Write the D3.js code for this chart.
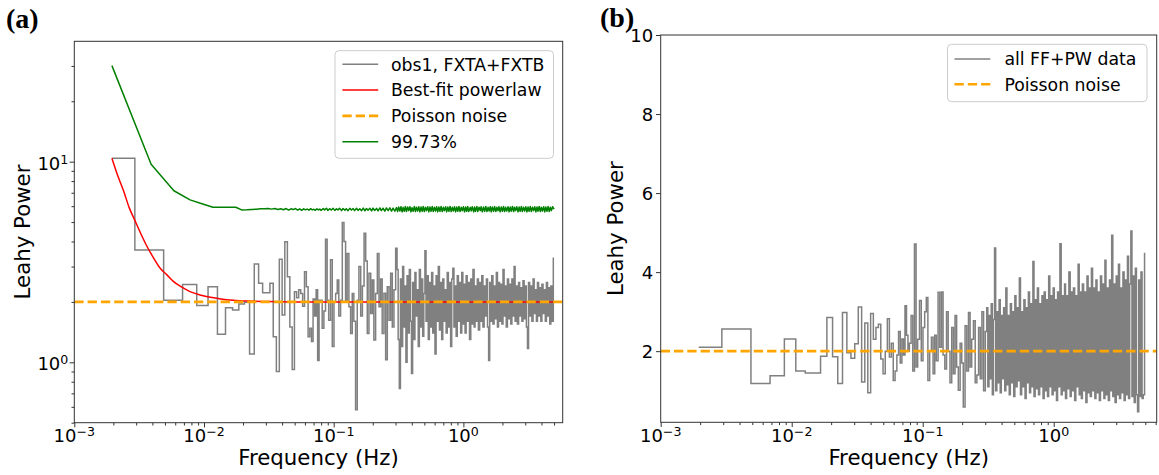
<!DOCTYPE html>
<html><head><meta charset="utf-8">
<script src="https://cdn.jsdelivr.net/npm/d3@7"></script>
<style>
body{margin:0;background:#fff}
svg{display:block}
text{font-family:"DejaVu Sans",sans-serif;fill:#000}
</style>
</head><body>
<svg id="chart" width="1159" height="475"></svg>
<script>
// ---------------- DATA ----------------
// frequency grid (Hz): low part on the native 1/512 s grid, higher part sampled
const freqLow = [0.00195,0.00391,0.00586,0.00781,0.00977,0.01172,0.01367,0.01563,0.01758,0.01953,
 0.02148,0.02344,0.02539,0.02734,0.0293,0.03125,0.0332,0.03516,0.03711,0.03906,
 0.04102,0.04297,0.04492,0.04688,0.04883,0.05078,0.05273,0.05469,0.05664,0.05859,
 0.06055,0.0625,0.06445,0.06641,0.06836,0.07031,0.07227,0.07422,0.07617,0.07813];
const freqMid = [0.080,0.083,0.085,0.088,0.090,0.093,0.096,0.099,0.102,0.105,
 0.108,0.111,0.115,0.118,0.122,0.125,0.129,0.133,0.137,0.141,
 0.145,0.150,0.154,0.159,0.164,0.169,0.174,0.179,0.184,0.190,
 0.196,0.201,0.207,0.214,0.220,0.227,0.233,0.240,0.248,0.255,
 0.263,0.271,0.279,0.287,0.296,0.305];
const freqHigh = [0.311,0.317,0.324,0.330,0.337,0.343,0.350,0.357,0.364,0.372,
 0.379,0.387,0.394,0.402,0.410,0.419,0.427,0.435,0.444,0.453,
 0.462,0.471,0.481,0.490,0.500,0.510,0.520,0.531,0.541,0.552,
 0.563,0.575,0.586,0.598,0.610,0.622,0.634,0.647,0.660,0.673,
 0.687,0.700,0.714,0.729,0.743,0.758,0.773,0.789,0.805,0.821,
 0.837,0.854,0.871,0.888,0.906,0.924,0.943,0.962,0.981,1.00,
 1.02,1.04,1.06,1.08,1.10,1.13,1.15,1.17,1.20,1.22,
 1.24,1.27,1.29,1.32,1.35,1.37,1.40,1.43,1.46,1.49,
 1.52,1.55,1.58,1.61,1.64,1.67,1.71,1.74,1.78,1.81,
 1.85,1.88,1.92,1.96,2.00,2.04,2.08,2.12,2.16,2.21,
 2.25,2.30,2.34,2.39,2.44,2.48,2.53,2.58,2.64,2.69,
 2.74,2.80,2.85,2.91,2.97,3.03,3.09,3.15,3.21,3.28,
 3.34,3.41,3.48,3.55,3.62,3.69,3.76,3.84,3.92,3.99,
 4.07,4.16,4.24,4.32,4.41,4.50,4.59,4.68,4.77,4.87,5.00];

// Panel (a): obs1, FXTA+FXTB Leahy power
const powerA_low = [10.4,3.63,2.04,2.44,1.92,2.38,1.38,1.87,1.82,1.95,
 1.99,1.10,3.09,2.48,2.22,2.22,2.48,1.34,0.90,3.26,
 1.72,3.99,2.67,1.50,0.92,2.25,2.10,2.30,2.20,1.90,
 2.83,2.38,1.34,1.48,1.27,2.07,1.70,2.30,1.02,2.04];
const powerA_mid = [2.04,1.48,1.80,4.10,2.04,1.62,3.24,1.20,2.00,2.20,
 2.57,1.70,2.04,4.97,4.00,2.04,3.49,1.89,1.39,2.20,
 1.60,0.58,2.04,3.00,1.70,2.40,4.40,3.20,1.39,2.78,
 1.75,2.57,1.29,2.20,3.49,1.89,2.60,1.39,2.21,1.03,
 2.38,1.62,2.78,1.50,2.30,3.70];
const powerA_high = [2.9,1.3,0.74,2.6,1.2,3.0,1.5,2.4,1.0,2.7,
 1.4,2.9,1.6,0.88,2.5,1.3,2.8,1.7,2.3,1.2,
 2.9,1.5,2.6,1.35,2.2,3.6,1.6,2.7,1.3,2.5,
 1.5,2.8,1.4,2.4,1.1,2.7,1.6,3.0,1.45,2.5,
 1.3,2.6,1.6,2.3,1.4,2.8,1.5,2.5,1.2,2.6,
 2.94,1.5,2.4,1.35,2.7,1.6,2.5,1.4,2.8,1.55,
 2.45,1.4,2.7,1.6,2.5,1.3,2.6,1.55,2.9,1.5,
 2.4,1.6,2.6,1.45,2.5,1.6,2.7,1.5,2.4,1.7,
 2.6,1.5,1.02,2.5,1.6,2.7,1.55,2.4,1.65,2.8,
 1.5,2.5,1.6,2.45,1.55,2.9,1.7,2.4,1.5,2.6,
 1.65,2.45,1.55,2.6,1.7,3.0,1.6,2.4,1.55,2.5,
 1.7,2.35,1.6,2.55,1.65,2.4,1.5,1.17,2.5,1.7,
 2.4,1.6,2.6,1.75,2.3,1.6,2.5,1.7,2.35,1.6,
 2.45,1.75,2.3,1.6,2.5,1.7,2.35,1.55,2.4,1.6,3.3];

// Panel (a): 99.73% significance curve
const sigA_low = [30.1,9.7,7.16,6.45,6.15,5.93,5.93,5.93,5.93,5.75,
 5.76,5.78,5.80,5.82,5.83,5.84,5.80,5.84,5.78,5.83,
 5.76,5.84,5.74,5.82,5.77,5.84,5.74,5.81,5.72,5.82,
 5.76,5.80,5.73,5.83,5.75,5.79,5.72,5.82,5.75,5.80];
const sigA_mid = [5.72,5.84,5.75,5.86,5.71,5.83,5.74,5.85,5.72,5.82,
 5.75,5.86,5.70,5.84,5.73,5.83,5.70,5.85,5.74,5.84,
 5.70,5.86,5.72,5.83,5.70,5.87,5.69,5.84,5.73,5.86,
 5.68,5.87,5.71,5.85,5.68,5.88,5.70,5.86,5.67,5.88,
 5.70,5.89,5.67,5.87,5.66,5.90];
const sigA_high = [5.64,5.94,5.68,5.96,5.62,5.92,5.66,5.98,5.64,5.94,
 5.70,5.96,5.62,5.90,5.66,5.98,5.64,5.92,5.68,5.96,
 5.62,5.94,5.66,5.98,5.64,5.92,5.70,5.96,5.62,5.94,
 5.66,5.98,5.64,5.92,5.68,5.96,5.62,5.94,5.66,5.98,
 5.64,5.92,5.70,5.96,5.62,5.94,5.66,5.98,5.64,5.92,
 5.68,5.96,5.62,5.94,5.66,5.98,5.64,5.92,5.70,5.96,
 5.62,5.94,5.66,5.98,5.64,5.92,5.68,5.96,5.62,5.94,
 5.66,5.98,5.64,5.92,5.70,5.96,5.62,5.94,5.66,5.98,
 5.64,5.92,5.68,5.96,5.62,5.94,5.66,5.98,5.64,5.92,
 5.70,5.96,5.62,5.94,5.66,5.98,5.64,5.92,5.68,5.96,
 5.62,5.94,5.66,5.98,5.64,5.92,5.70,5.96,5.62,5.94,
 5.66,5.98,5.64,5.92,5.68,5.96,5.62,5.94,5.66,5.98,
 5.64,5.92,5.70,5.96,5.62,5.94,5.66,5.98,5.64,5.92,
 5.68,5.96,5.62,5.94,5.66,5.98,5.64,5.92,5.70,5.96,5.80];

// Panel (a): best-fit power law model
const fitFreq = [0.00195,0.00215,0.00239,0.00265,0.00293,0.0033,0.00362,0.0041,0.00458,0.0052,
 0.0058,0.0068,0.0078,0.0095,0.0112,0.0135,0.0168,0.022,0.03,0.05,0.1,0.3,1,5];
const fitPower = [10.4,8.6,7.2,5.9,5.1,4.3,3.8,3.3,2.95,2.72,
 2.53,2.36,2.25,2.16,2.11,2.07,2.04,2.02,2.01,2.0,2.0,2.0,2.0,2.0];

// Panel (b): all FF+PW data
const powerB_low = [2.10,2.56,1.18,1.38,2.31,1.50,1.45,1.45,1.87,2.85,
 1.86,1.18,2.98,1.96,1.82,2.19,3.12,1.22,2.71,0.95,
 2.95,2.30,2.60,2.68,1.80,1.43,2.00,2.82,1.85,2.20,
 1.26,1.50,1.90,2.50,1.70,2.31,1.90,3.15,2.40,2.00];
const powerB_mid = [2.2,2.9,1.5,4.71,1.6,2.3,3.28,1.76,2.6,3.0,
 3.36,1.26,2.0,2.35,1.43,2.4,1.76,3.49,2.1,3.5,
 1.9,1.55,3.0,2.0,1.2,2.6,1.43,2.9,1.6,1.01,
 2.2,1.7,0.59,2.64,1.5,2.98,1.6,2.3,2.77,1.2,
 1.4,2.6,1.3,3.0,1.0,2.5];
const powerB_high = [3.1,1.1,2.9,1.3,3.2,0.9,2.8,4.61,1.0,3.0,
 1.2,3.3,0.95,2.9,1.3,3.1,1.0,3.6,1.15,2.9,
 0.9,3.2,1.2,3.0,0.85,3.4,1.1,3.1,1.25,3.85,
 0.9,3.0,1.1,3.3,0.8,3.1,1.2,3.5,0.95,3.2,
 1.1,4.27,0.85,3.3,1.05,3.6,0.9,3.2,1.1,3.4,
 0.8,3.5,1.0,3.3,0.85,3.9,1.1,3.4,0.9,3.6,
 1.0,3.3,0.75,3.5,1.1,4.72,0.9,3.4,1.0,3.7,
 0.8,3.4,1.05,4.0,0.85,3.5,1.0,3.6,0.75,3.4,
 1.1,4.2,0.9,3.5,0.8,3.7,1.0,3.5,0.7,3.9,
 0.95,3.6,0.85,4.1,1.0,3.6,0.8,3.8,0.95,3.5,
 0.75,3.9,1.0,3.7,0.8,4.3,0.9,3.6,0.75,3.8,
 1.0,4.93,0.85,3.7,0.7,3.9,0.9,4.2,0.8,3.6,
 0.95,4.0,0.75,3.8,0.9,4.4,0.8,3.7,5.04,0.85,
 3.9,0.7,4.1,0.9,0.47,3.8,0.85,4.0,0.8,0.9,4.47];

const poissonLevel = 2;
const xTickValues = [0.001, 0.01, 0.1, 1];
const xTickExps = ["\u22123", "\u22122", "\u22121", "0"];
const yTickValuesA = [1, 10];
const yTickExpsA = ["0", "1"];
const yTickValuesB = [2, 4, 6, 8, 10];
const legendA = ["obs1, FXTA+FXTB", "Best-fit powerlaw", "Poisson noise", "99.73%"];
const legendB = ["all FF+PW data", "Poisson noise"];

// ---------------- DRAWING ----------------
const freqs = freqLow.concat(freqMid, freqHigh);
const powerA = powerA_low.concat(powerA_mid, powerA_high);
const sigA = sigA_low.concat(sigA_mid, sigA_high);
const powerB = powerB_low.concat(powerB_mid, powerB_high);

const svg = d3.select("#chart");
const C = {gray:"#808080", red:"#ff0000", green:"#008000", orange:"#ffa500", spine:"#333333"};
const TICK_FS = 18, SUP_FS = 12.6;

function stepMid(xs, ys){
  const n = Math.min(xs.length, ys.length), pts = [];
  for (let i = 0; i < n; i++){
    const x0 = i === 0 ? xs[0] : (xs[i-1] + xs[i]) / 2;
    const x1 = i === n-1 ? xs[n-1] : (xs[i] + xs[i+1]) / 2;
    pts.push([x0, ys[i]], [x1, ys[i]]);
  }
  return pts;
}
function zip(xs, ys){ const n = Math.min(xs.length, ys.length); return d3.range(n).map(i => [xs[i], ys[i]]); }
function minorLog(lo, hi){
  const out = [];
  for (let e = -4; e <= 2; e++) for (let m = 2; m <= 9; m++){
    const v = m * Math.pow(10, e);
    if (v >= lo * 0.9999 && v <= hi * 1.0001) out.push(v);
  }
  return out;
}
function supText(g, x, y, base, exp, anchor){
  const t = g.append("text").attr("x", x).attr("y", y).attr("text-anchor", anchor).attr("font-size", TICK_FS);
  t.append("tspan").text(base);
  t.append("tspan").attr("dy", -6).attr("font-size", SUP_FS).text(exp);
  return t;
}
function styleAxis(sel){
  sel.select(".domain").remove();
  sel.selectAll(".tick line").attr("stroke", C.spine).attr("stroke-width", 1);
}

function panel(o){
  const g = svg.append("g");
  const clipId = "clip" + o.id;
  g.append("clipPath").attr("id", clipId).append("rect")
    .attr("x", o.L).attr("y", o.T).attr("width", o.R - o.L).attr("height", o.B - o.T);
  const x = d3.scaleLog().domain(o.xDomain).range([o.L, o.R]);
  const y = o.yLog ? d3.scaleLog().domain(o.yDomain).range([o.B, o.T])
                   : d3.scaleLinear().domain(o.yDomain).range([o.B, o.T]);
  const plot = g.append("g").attr("clip-path", `url(#${clipId})`);
  return {g, x, y, plot};
}

function axesFrame(p, o){
  const {g, x, y} = p;
  g.append("g").attr("transform", `translate(0,${o.B})`)
    .call(d3.axisBottom(x).tickValues(minorLog(o.xDomain[0], o.xDomain[1])).tickSize(2.8).tickFormat(() => ""))
    .call(styleAxis);
  g.append("g").attr("transform", `translate(0,${o.B})`)
    .call(d3.axisBottom(x).tickValues(xTickValues).tickSize(4.7).tickFormat(() => ""))
    .call(styleAxis);
  xTickValues.forEach((v, i) => supText(g, x(v), o.B + 19.5, "10", xTickExps[i], "middle"));
  g.append("rect").attr("x", o.L).attr("y", o.T).attr("width", o.R - o.L).attr("height", o.B - o.T)
    .attr("fill", "none").attr("stroke", C.spine).attr("stroke-width", 1);
  g.append("text").attr("x", (o.L + o.R) / 2).attr("y", 465).attr("text-anchor", "middle")
    .attr("font-size", 21.3).text("Frequency (Hz)");
  g.append("text").attr("transform", `translate(${o.yLabelX},${(o.T + o.B) / 2}) rotate(-90)`)
    .attr("text-anchor", "middle").attr("font-size", 21.3).text("Leahy Power");
}

function drawLegend(g, box, rows){
  g.append("rect").attr("x", box.x).attr("y", box.y).attr("width", box.w).attr("height", box.h)
    .attr("rx", 4).attr("fill", "#fff").attr("fill-opacity", 0.8)
    .attr("stroke", "#cccccc").attr("stroke-width", 1);
  rows.forEach((r, i) => {
    const yy = box.row0 + i * box.dy;
    g.append("line").attr("x1", box.lx0).attr("x2", box.lx1).attr("y1", yy).attr("y2", yy)
      .attr("stroke", r.color).attr("stroke-width", r.width).attr("stroke-dasharray", r.dash || null);
    g.append("text").attr("x", box.tx).attr("y", yy + 6.2).attr("font-size", 17.3).text(r.label);
  });
}

// ---------- Panel (a) ----------
const oA = {id:"A", L:74.3, R:562.7, T:41.3, B:422.7, xDomain:[1e-3, 5.83], yDomain:[0.5, 39.8], yLog:true, yLabelX:29.5};
const pA = panel(oA);
const lineA = d3.line().x(d => pA.x(d[0])).y(d => pA.y(d[1]));
pA.plot.append("path").attr("d", lineA(stepMid(freqs, powerA)))
  .attr("fill", "none").attr("stroke", C.gray).attr("stroke-width", 1.5);
pA.plot.append("path").attr("d", lineA.curve(d3.curveMonotoneX)(zip(fitFreq, fitPower)))
  .attr("fill", "none").attr("stroke", C.red).attr("stroke-width", 1.5);
lineA.curve(d3.curveLinear);
pA.plot.append("line").attr("x1", oA.L).attr("x2", oA.R)
  .attr("y1", pA.y(poissonLevel)).attr("y2", pA.y(poissonLevel))
  .attr("stroke", C.orange).attr("stroke-width", 2.6).attr("stroke-dasharray", "9.3,4");
pA.plot.append("path").attr("d", lineA(zip(freqs, sigA)))
  .attr("fill", "none").attr("stroke", C.green).attr("stroke-width", 1.5).attr("stroke-linejoin", "round");
axesFrame(pA, oA);
pA.g.append("g").attr("transform", `translate(${oA.L},0)`)
  .call(d3.axisLeft(pA.y).tickValues([0.5,0.6,0.7,0.8,0.9,2,3,4,5,6,7,8,9,20,30]).tickSize(2.8).tickFormat(() => ""))
  .call(styleAxis);
pA.g.append("g").attr("transform", `translate(${oA.L},0)`)
  .call(d3.axisLeft(pA.y).tickValues(yTickValuesA).tickSize(4.7).tickFormat(() => ""))
  .call(styleAxis);
yTickValuesA.forEach((v, i) => supText(pA.g, oA.L - 6, pA.y(v) + 8, "10", yTickExpsA[i], "end"));
drawLegend(pA.g, {x:335, y:50.7, w:218.5, h:107.6, row0:64.3, dy:25.8, lx0:342.4, lx1:378.2, tx:391}, [
  {label:legendA[0], color:C.gray, width:1.5},
  {label:legendA[1], color:C.red, width:1.5},
  {label:legendA[2], color:C.orange, width:2.6, dash:"9.3,4"},
  {label:legendA[3], color:C.green, width:1.5}
]);
svg.append("text").attr("x", 6).attr("y", 28).attr("font-size", 28).attr("font-weight", "bold")
  .style("font-family", "'Liberation Serif','Times New Roman',serif").text("(a)");

// ---------- Panel (b) ----------
const oB = {id:"B", L:660.7, R:1156.7, T:35, B:422.3, xDomain:[1e-3, 6.11], yDomain:[0.2, 10], yLog:false, yLabelX:623.2};
const pB = panel(oB);
const lineB = d3.line().x(d => pB.x(d[0])).y(d => pB.y(d[1]));
pB.plot.append("path").attr("d", lineB(stepMid(freqs, powerB)))
  .attr("fill", "none").attr("stroke", C.gray).attr("stroke-width", 1.5);
pB.plot.append("line").attr("x1", oB.L).attr("x2", oB.R)
  .attr("y1", pB.y(poissonLevel)).attr("y2", pB.y(poissonLevel))
  .attr("stroke", C.orange).attr("stroke-width", 2.6).attr("stroke-dasharray", "9.3,4");
axesFrame(pB, oB);
pB.g.append("g").attr("transform", `translate(${oB.L},0)`)
  .call(d3.axisLeft(pB.y).tickValues(yTickValuesB).tickSize(4.7).tickFormat(() => ""))
  .call(styleAxis);
yTickValuesB.forEach(v => pB.g.append("text").attr("x", oB.L - 7.5).attr("y", pB.y(v) + 6.5)
  .attr("text-anchor", "end").attr("font-size", TICK_FS).text(v));
drawLegend(pB.g, {x:947.5, y:44.3, w:199.5, h:57.4, row0:59, dy:25.3, lx0:954.5, lx1:990.3, tx:1004.4}, [
  {label:legendB[0], color:C.gray, width:1.5},
  {label:legendB[1], color:C.orange, width:2.6, dash:"9.3,4"}
]);
svg.append("text").attr("x", 600).attr("y", 27).attr("font-size", 28).attr("font-weight", "bold")
  .style("font-family", "'Liberation Serif','Times New Roman',serif").text("(b)");
</script>
</body></html>
